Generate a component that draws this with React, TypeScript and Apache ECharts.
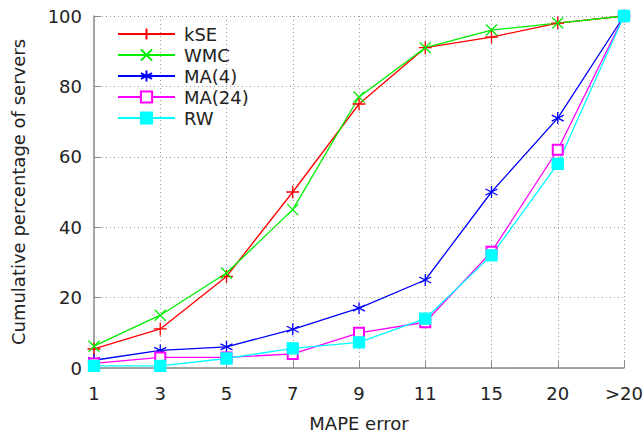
import React, { useEffect, useRef } from "react";
import * as echarts from "echarts";

const categories = ["1", "3", "5", "7", "9", "11", "15", "20", ">20"];
const kSE = [5.4, 11.1, 26, 50, 75, 91, 94, 98, 100];
const WMC = [6.2, 15, 27, 45, 77, 91, 96, 98, 100];
const MA4 = [2.2, 5, 6, 11, 17, 25, 50, 71, 100];
const MA24 = [1.3, 3, 3, 4, 10, 13, 33, 62, 100];
const RW = [0.6, 0.6, 2.7, 5.6, 7.3, 14, 32, 58, 100];
const yTicks = [0, 20, 40, 60, 80, 100];

const plusPath = "path://M5,0L5,10M0,5L10,5";
const crossPath = "path://M0,0L10,10M0,10L10,0";
const starPath = "path://M5,0L5,10M0.67,2.5L9.33,7.5M0.67,7.5L9.33,2.5";

const FONT = "DejaVu Sans";

export default function App() {
  const ref = useRef<HTMLDivElement>(null);
  useEffect(() => {
    if (!ref.current) return;
    const chart = echarts.init(ref.current, undefined, { renderer: "svg" });
    const mk = (name: string, data: number[], color: string, symbol: string, size: number) => ({
      name,
      type: "line",
      data,
      symbol,
      symbolSize: size,
      color,
      lineStyle: { color, width: 1.3 },
      itemStyle: { color, borderColor: color, borderWidth: 1.3 },
      emphasis: { disabled: true },
    });
    chart.setOption({
      animation: false,
      backgroundColor: "#ffffff",
      textStyle: { fontFamily: FONT },
      grid: { left: 94, right: 20, top: 16, bottom: 65, outerBoundsMode: "none", containLabel: false },
      legend: {
        orient: "vertical",
        left: 117,
        top: 25,
        padding: 0,
        itemWidth: 57,
        itemHeight: 14,
        itemGap: 3,
        textStyle: { fontFamily: FONT, fontSize: 18, color: "#222", padding: [0, 0, 0, 4] },
        data: ["kSE", "WMC", "MA(4)", "MA(24)", "RW"],
      },
      xAxis: {
        type: "category",
        data: categories,
        boundaryGap: false,
        name: "MAPE error",
        nameLocation: "middle",
        nameGap: 46,
        nameTextStyle: { fontFamily: FONT, fontSize: 18, color: "#222" },
        axisLine: { lineStyle: { color: "#888", width: 1.5 } },
        axisTick: { show: true, inside: true, length: 7, lineStyle: { color: "#888" } },
        axisLabel: { fontFamily: FONT, fontSize: 18, color: "#222", margin: 16 },
        splitLine: { show: true, lineStyle: { color: "#999", type: [1, 3], width: 1 } },
      },
      yAxis: {
        type: "value",
        min: 0,
        max: 100,
        interval: 20,
        name: "Cumulative percentage of servers",
        nameLocation: "middle",
        nameGap: 67,
        nameTextStyle: { fontFamily: FONT, fontSize: 18, color: "#222" },
        axisLine: { show: true, lineStyle: { color: "#888", width: 1.5 } },
        axisTick: { show: true, inside: true, length: 7, lineStyle: { color: "#888" } },
        axisLabel: {
          fontFamily: FONT,
          fontSize: 18,
          color: "#222",
          margin: 12,
          padding: [12, 0, 0, 0],
          formatter: (v: number) => (yTicks.includes(v) ? String(v) : ""),
        },
        splitLine: { show: true, lineStyle: { color: "#999", type: [1, 3], width: 1 } },
      },
      series: [
        mk("kSE", kSE, "#ff0000", plusPath, 13),
        mk("WMC", WMC, "#00ee00", crossPath, 11),
        mk("MA(4)", MA4, "#0000ff", starPath, 12),
        mk("MA(24)", MA24, "#ff00ff", "emptyRect", 10),
        mk("RW", RW, "#00ffff", "rect", 11),
      ],
    });
    return () => chart.dispose();
  }, []);
  return (
    <div
      ref={ref}
      style={{ position: "fixed", left: 0, top: 0, width: 644, height: 433, overflow: "hidden" }}
    />
  );
}
